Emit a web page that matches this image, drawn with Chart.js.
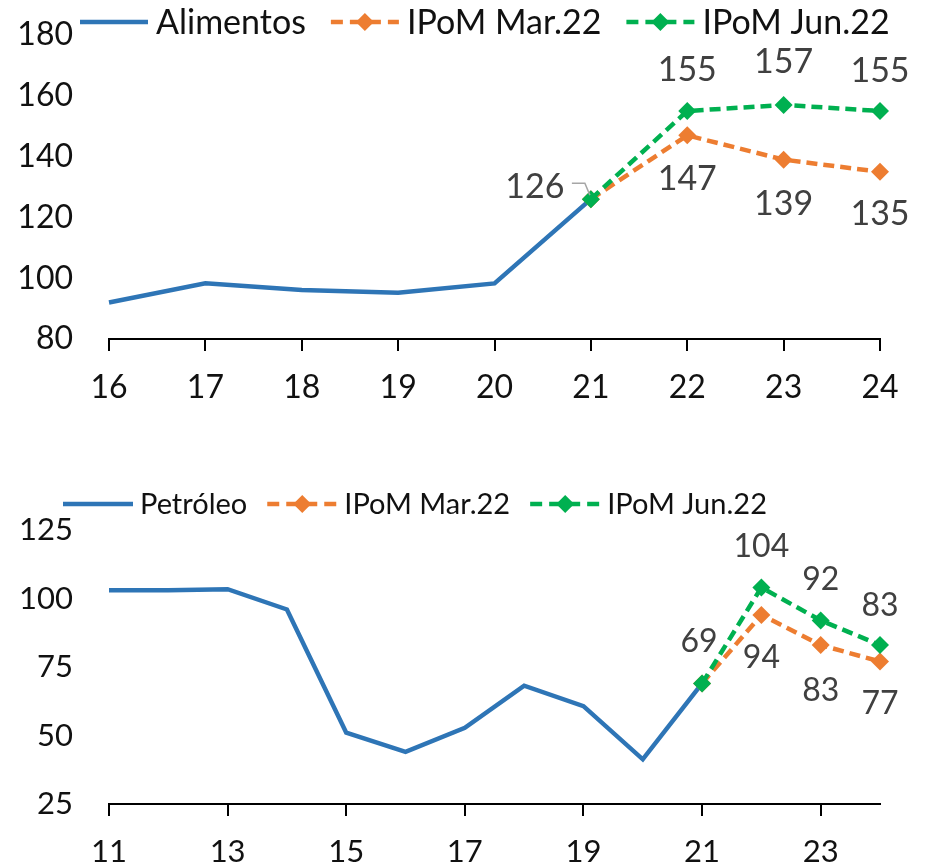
<!DOCTYPE html>
<html>
<head>
<meta charset="utf-8">
<script src="https://cdn.jsdelivr.net/npm/chart.js@4"></script>
<style>
  html, body { margin: 0; padding: 0; background: #fff; overflow: hidden; }
  #topBox { position: absolute; left: 0; top: 0; width: 925px; height: 440px; }
  #botBox { position: absolute; left: 0; top: 470px; width: 925px; height: 420px; }
</style>
</head>
<body>
<div id="topBox"><canvas id="foodChart"></canvas></div>
<div id="botBox"><canvas id="oilChart"></canvas></div>
<script>
// Alimentos (top chart)
const foodYears = ['16', '17', '18', '19', '20', '21', '22', '23', '24'];
const foodActual = [92, 98.3, 96.1, 95.2, 98.3, 126, null, null, null];
const foodMar22 = [null, null, null, null, null, 126, 147, 139, 135];
const foodJun22 = [null, null, null, null, null, 126, 155, 157, 155];
const foodTicks = [80, 100, 120, 140, 160, 180];

// Petróleo (bottom chart)
const oilYears = ['11', '12', '13', '14', '15', '16', '17', '18', '19', '20', '21', '22', '23', '24'];
const oilActual = [103, 103, 103.4, 96, 51, 44, 52.8, 68.2, 60.7, 41.3, 69, null, null, null];
const oilMar22 = [null, null, null, null, null, null, null, null, null, null, 69, 94, 83, 77];
const oilJun22 = [null, null, null, null, null, null, null, null, null, null, 69, 104, 92, 83];
const oilTicks = [25, 50, 75, 100, 125];

const BLUE = '#2E75B6';
const ORANGE = '#ED7D31';
const GREEN = '#00B050';

Chart.defaults.font.family = 'Lato';
Chart.defaults.color = '#111';

function diamond(ctx, x, y, r, color) {
    ctx.save();
    ctx.setLineDash([]);
    ctx.fillStyle = color;
    ctx.beginPath();
    ctx.moveTo(x, y - r);
    ctx.lineTo(x + r, y);
    ctx.lineTo(x, y + r);
    ctx.lineTo(x - r, y);
    ctx.closePath();
    ctx.fill();
    ctx.restore();
}

// legend drawn by hand: line sample (with diamond for forecasts) + text
const lineLegend = {
    id: 'lineLegend',
    afterDraw(chart, args, opts) {
        const ctx = chart.ctx;
        let x = opts.x;
        const y = opts.y;
        ctx.save();
        ctx.font = opts.size + 'px Lato';
        ctx.textBaseline = 'middle';
        chart.data.datasets.forEach(ds => {
            ctx.strokeStyle = ds.borderColor;
            ctx.lineWidth = ds.borderWidth;
            ctx.setLineDash(ds.borderDash ? [12, 7] : []);
            ctx.beginPath();
            ctx.moveTo(x, y);
            ctx.lineTo(x + opts.lineLen, y);
            ctx.stroke();
            if (ds.pointRadius) diamond(ctx, x + opts.lineLen / 2, y, 9, ds.borderColor);
            ctx.fillStyle = '#111';
            ctx.fillText(ds.label, x + opts.lineLen + opts.gap, y + 1);
            x += opts.lineLen + opts.gap + ctx.measureText(ds.label).width + opts.itemGap;
        });
        ctx.restore();
    }
};

// value labels next to chosen points
const valueLabels = {
    id: 'valueLabels',
    afterDatasetsDraw(chart, args, opts) {
        const ctx = chart.ctx;
        ctx.save();
        ctx.font = opts.size + 'px Lato';
        ctx.fillStyle = '#404040';
        ctx.textAlign = 'center';
        ctx.textBaseline = 'middle';
        chart.data.datasets.forEach((ds, di) => {
            if (!ds.valueLabels) return;
            const meta = chart.getDatasetMeta(di);
            ds.valueLabels.forEach(l => {
                const pt = meta.data[l.i];
                ctx.fillText(String(Math.round(ds.data[l.i])), pt.x + l.dx, pt.y + l.dy);
                if (l.leader) {
                    ctx.strokeStyle = '#A6A6A6';
                    ctx.lineWidth = 1.5;
                    ctx.beginPath();
                    ctx.moveTo(pt.x - 19, pt.y - 16);
                    ctx.lineTo(pt.x - 6, pt.y - 16);
                    ctx.lineTo(pt.x - 1, pt.y - 4);
                    ctx.stroke();
                }
            });
        });
        ctx.restore();
    }
};

function makeChart(id, cfg) {
    const ctx = document.getElementById(id).getContext('2d');
    return new Chart(ctx, {
        type: 'line',
        data: {
            labels: cfg.labels,
            datasets: [{
                label: cfg.name,
                data: cfg.actual,
                borderColor: BLUE,
                borderWidth: 4.5,
                pointRadius: 0,
                order: 2,
                clip: false
            }, {
                label: 'IPoM Mar.22',
                data: cfg.mar,
                borderColor: ORANGE,
                backgroundColor: ORANGE,
                borderWidth: 4.5,
                borderDash: [11, 6],
                pointStyle: 'rectRot',
                pointRadius: 9,
                pointBorderWidth: 0,
                order: 1,
                clip: false,
                valueLabels: cfg.marLabels
            }, {
                label: 'IPoM Jun.22',
                data: cfg.jun,
                borderColor: GREEN,
                backgroundColor: GREEN,
                borderWidth: 4.5,
                borderDash: [11, 6],
                pointStyle: 'rectRot',
                pointRadius: 9,
                pointBorderWidth: 0,
                order: 0,
                clip: false,
                valueLabels: cfg.junLabels
            }]
        },
        options: {
            responsive: true,
            maintainAspectRatio: false,
            animation: false,
            layout: { padding: { top: cfg.top, right: 45, left: 0, bottom: 0 } },
            plugins: {
                legend: { display: false },
                tooltip: { enabled: false },
                lineLegend: cfg.legend,
                valueLabels: { size: cfg.labelSize }
            },
            scales: {
                x: {
                    type: 'category',
                    offset: false,
                    grid: { display: true, drawOnChartArea: false, drawTicks: true, tickLength: 12, color: '#000', lineWidth: 2 },
                    border: { display: true, color: '#000', width: 2 },
                    ticks: {
                        autoSkip: false,
                        maxRotation: 0,
                        padding: 17,
                        color: '#111',
                        font: { size: cfg.tickSize },
                        callback: (v, i) => (i % cfg.every === 0 ? cfg.labels[i] : null)
                    },
                    afterFit: s => { s.height = cfg.xHeight; }
                },
                y: {
                    min: cfg.yTicks[0],
                    max: cfg.yTicks[cfg.yTicks.length - 1],
                    afterBuildTicks: s => { s.ticks = cfg.yTicks.map(v => ({ value: v })); },
                    grid: { display: false, drawTicks: false },
                    border: { display: false },
                    ticks: { padding: 36, color: '#111', font: { size: cfg.tickSize } },
                    afterFit: s => {
                        s.width = 109;
                        s.paddingTop = 18;
                        s.paddingBottom = 18;
                    }
                }
            }
        },
        plugins: [lineLegend, valueLabels]
    });
}

makeChart('foodChart', {
    labels: foodYears,
    name: 'Alimentos',
    actual: foodActual,
    mar: foodMar22,
    jun: foodJun22,
    yTicks: foodTicks,
    every: 1,
    top: 35,
    xHeight: 101,
    tickSize: 32,
    labelSize: 34,
    legend: { x: 80, y: 22, size: 34, lineLen: 68, gap: 8, itemGap: 25 },
    marLabels: [{ i: 6, dx: 0, dy: 44 }, { i: 7, dx: 0, dy: 44 }, { i: 8, dx: 0, dy: 42 }],
    junLabels: [{ i: 5, dx: -56, dy: -12, leader: true }, { i: 6, dx: 0, dy: -41 }, { i: 7, dx: 0, dy: -43 }, { i: 8, dx: 0, dy: -40 }]
});

makeChart('oilChart', {
    labels: oilYears,
    name: 'Petróleo',
    actual: oilActual,
    mar: oilMar22,
    jun: oilJun22,
    yTicks: oilTicks,
    every: 2,
    top: 60,
    xHeight: 86,
    tickSize: 31,
    labelSize: 32,
    legend: { x: 63, y: 34, size: 29, lineLen: 70, gap: 7, itemGap: 20 },
    marLabels: [{ i: 11, dx: 0, dy: 43 }, { i: 12, dx: 0, dy: 46 }, { i: 13, dx: 0, dy: 42 }],
    junLabels: [{ i: 10, dx: -3, dy: -42 }, { i: 11, dx: 0, dy: -41 }, { i: 12, dx: 0, dy: -41 }, { i: 13, dx: 0, dy: -39 }]
});
</script>
</body>
</html>
